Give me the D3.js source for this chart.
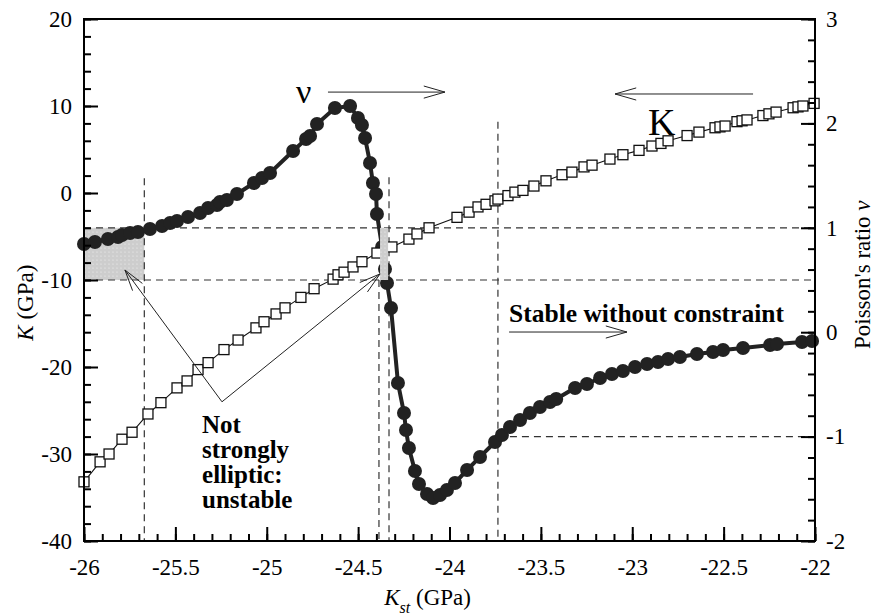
<!DOCTYPE html>
<html>
<head>
<meta charset="utf-8">
<script src="https://cdn.jsdelivr.net/npm/d3@7"></script>
<style>
  body { margin: 0; background: #fff; }
  svg { display: block; }
</style>
</head>
<body>
<svg></svg>
<script>
// K (left axis, open squares) against K_st
var kKst = [-26.00, -25.912, -25.863, -25.792, -25.737, -25.650, -25.579, -25.491, -25.436, -25.376,
    -25.321, -25.234, -25.157, -25.059, -25.015, -24.949, -24.900, -24.813, -24.741, -24.637,
    -24.610, -24.577, -24.528, -24.479, -24.397, -24.315, -24.222, -24.178, -24.112, -23.959,
    -23.893, -23.844, -23.800, -23.751, -23.735, -23.680, -23.642, -23.598, -23.538, -23.472,
    -23.384, -23.330, -23.264, -23.220, -23.122, -23.051, -22.963, -22.892, -22.843, -22.804,
    -22.700, -22.635, -22.547, -22.520, -22.492, -22.427, -22.399, -22.372, -22.285, -22.252,
    -22.213, -22.120, -22.093, -22.066, -22.005];
var kVals = [-33.2, -30.9, -30.0, -28.3, -27.5, -25.4, -24.1, -22.4, -21.6, -20.3,
    -19.5, -18.0, -16.9, -15.5, -14.8, -13.9, -13.2, -12.0, -11.0, -9.9,
    -9.4, -9.1, -8.5, -7.9, -6.9, -6.2, -5.3, -4.7, -4.0, -2.8,
    -2.2, -1.6, -1.3, -0.9, -0.7, -0.3, 0.1, 0.3, 0.8, 1.4,
    2.1, 2.4, 3.0, 3.2, 3.9, 4.4, 4.9, 5.4, 5.7, 6.0,
    6.6, 7.0, 7.5, 7.6, 7.7, 8.2, 8.3, 8.4, 8.9, 9.1,
    9.3, 9.8, 9.9, 10.0, 10.3];

// Poisson's ratio (right axis, filled circles) against K_st
var nuKst = [-26.000, -25.940, -25.869, -25.814, -25.792, -25.748, -25.705, -25.639, -25.573, -25.529,
    -25.491, -25.431, -25.365, -25.321, -25.272, -25.256, -25.218, -25.163, -25.070, -25.026,
    -24.982, -24.856, -24.785, -24.763, -24.725, -24.627, -24.544, -24.501, -24.479, -24.462,
    -24.435, -24.419, -24.402, -24.397, -24.369, -24.353, -24.342, -24.320, -24.282, -24.249,
    -24.238, -24.222, -24.189, -24.167, -24.123, -24.090, -24.052, -24.014, -23.970, -23.904,
    -23.833, -23.751, -23.713, -23.669, -23.614, -23.560, -23.505, -23.450, -23.416, -23.313,
    -23.248, -23.176, -23.111, -23.051, -22.985, -22.919, -22.859, -22.804, -22.739, -22.646,
    -22.558, -22.503, -22.394, -22.246, -22.208, -22.071, -22.016];
var nuVals = [0.845, 0.864, 0.893, 0.912, 0.931, 0.950, 0.960, 0.989, 1.017, 1.046,
    1.065, 1.103, 1.142, 1.190, 1.218, 1.247, 1.266, 1.324, 1.429, 1.477,
    1.525, 1.736, 1.851, 1.879, 1.994, 2.147, 2.167, 2.052, 1.985, 1.860,
    1.621, 1.429, 1.324, 1.132, 0.816, 0.605, 0.471, 0.232, -0.487, -0.774,
    -0.937, -1.109, -1.330, -1.454, -1.550, -1.588, -1.559, -1.511, -1.444, -1.320,
    -1.195, -1.052, -0.985, -0.908, -0.841, -0.774, -0.716, -0.669, -0.640, -0.534,
    -0.496, -0.439, -0.400, -0.372, -0.333, -0.305, -0.285, -0.257, -0.238, -0.209,
    -0.190, -0.170, -0.151, -0.123, -0.113, -0.094, -0.084];

var xTicks = [-26, -25.5, -25, -24.5, -24, -23.5, -23, -22.5, -22];
var kTicks = [-40, -30, -20, -10, 0, 10, 20];
var nuTicks = [-2, -1, 0, 1, 2, 3];

// stability limits (K_st) used for the guide lines and shaded bands
var limitA = -25.67, limitB = -24.386, limitC = -24.331, limitD = -23.735;
var bandA = [-26, -25.67], bandB = [-24.380, -24.336];

var svgWidth = 876, svgHeight = 616;
var margin = { top: 19, right: 61, bottom: 75, left: 84 };
var width = svgWidth - margin.left - margin.right,
    height = svgHeight - margin.top - margin.bottom;

var serif = "'Liberation Serif', 'Times New Roman', serif";

var svg = d3.select("svg")
    .attr("width", svgWidth)
    .attr("height", svgHeight);

var defs = svg.append("defs");
var pat = defs.append("pattern")
    .attr("id", "dots")
    .attr("width", 4).attr("height", 4)
    .attr("patternUnits", "userSpaceOnUse");
pat.append("rect").attr("width", 4).attr("height", 4).attr("fill", "#cdcdcd");
pat.append("circle").attr("cx", 1).attr("cy", 1).attr("r", 0.6).attr("fill", "#f2f2f2");

var g = svg.append("g")
    .attr("transform", "translate(" + margin.left + "," + margin.top + ")");

var x = d3.scaleLinear().domain([-26, -22]).range([0, width]),
    yK = d3.scaleLinear().domain([-40, 20]).range([height, 0]),
    yNu = d3.scaleLinear().domain([-2, 3]).range([height, 0]);

// shaded band at the left
g.append("rect")
    .attr("x", x(bandA[0]))
    .attr("y", yK(-4))
    .attr("width", x(bandA[1]) - x(bandA[0]))
    .attr("height", yK(-10) - yK(-4))
    .attr("fill", "url(#dots)");

// dashed guide lines
var dash = g.append("g")
    .attr("stroke", "#333")
    .attr("stroke-width", 1.2)
    .attr("stroke-dasharray", "7,5")
    .attr("fill", "none");

function vLine(k, top) {
    dash.append("line")
        .attr("x1", x(k)).attr("x2", x(k))
        .attr("y1", yK(top)).attr("y2", height);
}
function hLine(k0, k1, yv) {
    dash.append("line")
        .attr("x1", x(k0)).attr("x2", x(k1))
        .attr("y1", yv).attr("y2", yv);
}
hLine(-26, -22, yNu(1));
hLine(-26, -22, yNu(0.5));
hLine(limitD, -22, yNu(-1));
vLine(limitA, 1.7);
vLine(limitB, -10);
vLine(limitC, 1.8);
vLine(limitD, 8.2);

// K line with open squares
var kData = kKst.map(function (d, i) { return [d, kVals[i]]; });
var kLine = d3.line()
    .x(function (d) { return x(d[0]); })
    .y(function (d) { return yK(d[1]); });

// nu line with filled circles
var nuData = nuKst.map(function (d, i) { return [d, nuVals[i]]; });
var nuLine = d3.line()
    .x(function (d) { return x(d[0]); })
    .y(function (d) { return yNu(d[1]); });

g.append("path")
    .datum(nuData)
    .attr("d", nuLine)
    .attr("fill", "none")
    .attr("stroke", "#222")
    .attr("stroke-width", 4);

g.append("g")
    .selectAll("circle")
    .data(nuData)
    .enter()
    .append("circle")
    .attr("cx", function (d) { return x(d[0]); })
    .attr("cy", function (d) { return yNu(d[1]); })
    .attr("r", 7)
    .attr("fill", "#222");

g.append("path")
    .datum(kData)
    .attr("d", kLine)
    .attr("fill", "none")
    .attr("stroke", "#111")
    .attr("stroke-width", 1.1);

var sq = 10;
g.append("g")
    .selectAll("rect")
    .data(kData)
    .enter()
    .append("rect")
    .attr("x", function (d) { return x(d[0]) - sq / 2; })
    .attr("y", function (d) { return yK(d[1]) - sq / 2; })
    .attr("width", sq)
    .attr("height", sq)
    .attr("fill", "#fff")
    .attr("stroke", "#111")
    .attr("stroke-width", 1.3);

// narrow band, drawn over the curve
g.append("rect")
    .attr("x", x(bandB[0]))
    .attr("y", yK(-4))
    .attr("width", x(bandB[1]) - x(bandB[0]))
    .attr("height", yK(-10) - yK(-4))
    .attr("fill", "url(#dots)");

// arrows
function arrow(x1, y1, x2, y2) {
    var ang = Math.atan2(y2 - y1, x2 - x1), len = 22, spread = 0.28;
    var a = g.append("g").attr("stroke", "#222").attr("stroke-width", 1).attr("fill", "none");
    a.append("line").attr("x1", x1).attr("y1", y1).attr("x2", x2).attr("y2", y2);
    a.append("path").attr("d",
        "M" + (x2 - len * Math.cos(ang - spread)) + "," + (y2 - len * Math.sin(ang - spread)) +
        "L" + x2 + "," + y2 +
        "L" + (x2 - len * Math.cos(ang + spread)) + "," + (y2 - len * Math.sin(ang + spread)));
}
arrow(x(-24.665), yK(11.6), x(-24.025), yK(11.6));
arrow(x(-22.339), yK(11.38), x(-23.094), yK(11.38));
arrow(x(-23.674), yK(-15.98), x(-23.029), yK(-15.98));

// pointer lines from the note
var notePt = [-25.245, -24.0];
var tips = [[-25.776, -8.85], [-24.380, -9.3]];
tips.forEach(function (t) {
    arrow(x(notePt[0]), yK(notePt[1]), x(t[0]), yK(t[1]));
});

// labels inside the plot
g.append("text")
    .attr("x", x(-24.840)).attr("y", yK(10.34))
    .style("font-family", serif).style("font-size", "34px")
    .text("ν");

g.append("text")
    .attr("x", x(-22.914)).attr("y", yK(6.67))
    .style("font-family", serif).style("font-size", "38px")
    .text("K");

g.append("text")
    .attr("x", x(-23.674)).attr("y", yK(-14.83))
    .style("font-family", serif).style("font-size", "25.5px").style("font-weight", "bold")
    .text("Stable without constraint");

var note = g.append("text")
    .attr("x", x(-25.354)).attr("y", yK(-27.59))
    .style("font-family", serif).style("font-size", "25px").style("font-weight", "bold");
["Not", "strongly", "elliptic:", "unstable"].forEach(function (s, i) {
    note.append("tspan").attr("x", x(-25.354)).attr("dy", i === 0 ? 0 : 25).text(s);
});

// axes
function styleAxis(sel) {
    sel.attr("font-family", serif).attr("font-size", 23);
    sel.selectAll("text").attr("fill", "#000");
    sel.selectAll("line").attr("stroke", "#000").attr("stroke-width", 2);
    sel.select(".domain").remove();
}
var fmt = function (d) { return String(d); };

g.append("g")
    .attr("transform", "translate(0," + height + ")")
    .call(d3.axisBottom(x).tickValues(d3.range(-26, -21.95, 0.1)).tickSize(-7).tickFormat(""))
    .call(styleAxis);
g.append("g")
    .attr("transform", "translate(0," + height + ")")
    .call(d3.axisBottom(x).tickValues(xTicks).tickSize(-14).tickPadding(18).tickFormat(fmt))
    .call(styleAxis);

g.append("g")
    .call(d3.axisLeft(yK).tickValues(d3.range(-40, 21, 2)).tickSize(-7).tickFormat(""))
    .call(styleAxis);
g.append("g")
    .call(d3.axisLeft(yK).tickValues(kTicks).tickSize(-14).tickPadding(12).tickFormat(fmt))
    .call(styleAxis);

g.append("g")
    .attr("transform", "translate(" + width + ",0)")
    .call(d3.axisRight(yNu).tickValues(d3.range(-2, 3.01, 0.2)).tickSize(-7).tickFormat(""))
    .call(styleAxis);
g.append("g")
    .attr("transform", "translate(" + width + ",0)")
    .call(d3.axisRight(yNu).tickValues(nuTicks).tickSize(-14).tickPadding(11).tickFormat(fmt))
    .call(styleAxis);

// frame
g.append("rect")
    .attr("width", width).attr("height", height)
    .attr("fill", "none").attr("stroke", "#000").attr("stroke-width", 2);

// axis titles
var xt = svg.append("text")
    .attr("x", margin.left + x(-24.12)).attr("y", 605)
    .attr("text-anchor", "middle")
    .style("font-family", serif).style("font-size", "23px");
xt.append("tspan").style("font-style", "italic").text("K");
xt.append("tspan").style("font-style", "italic").style("font-size", "16px").attr("dy", 8).text("st");
xt.append("tspan").attr("dy", -8).text(" (GPa)");

var yt = svg.append("text")
    .attr("text-anchor", "middle")
    .attr("transform", "translate(33," + (margin.top + yK(-12.6)) + ")rotate(-90)")
    .style("font-family", serif).style("font-size", "23px");
yt.append("tspan").style("font-style", "italic").text("K");
yt.append("tspan").text(" (GPa)");

var rt = svg.append("text")
    .attr("text-anchor", "middle")
    .attr("transform", "translate(870," + (margin.top + yNu(0.55)) + ")rotate(-90)")
    .style("font-family", serif).style("font-size", "23px");
rt.append("tspan").text("Poisson's ratio ");
rt.append("tspan").style("font-style", "italic").text("ν");
</script>
</body>
</html>
